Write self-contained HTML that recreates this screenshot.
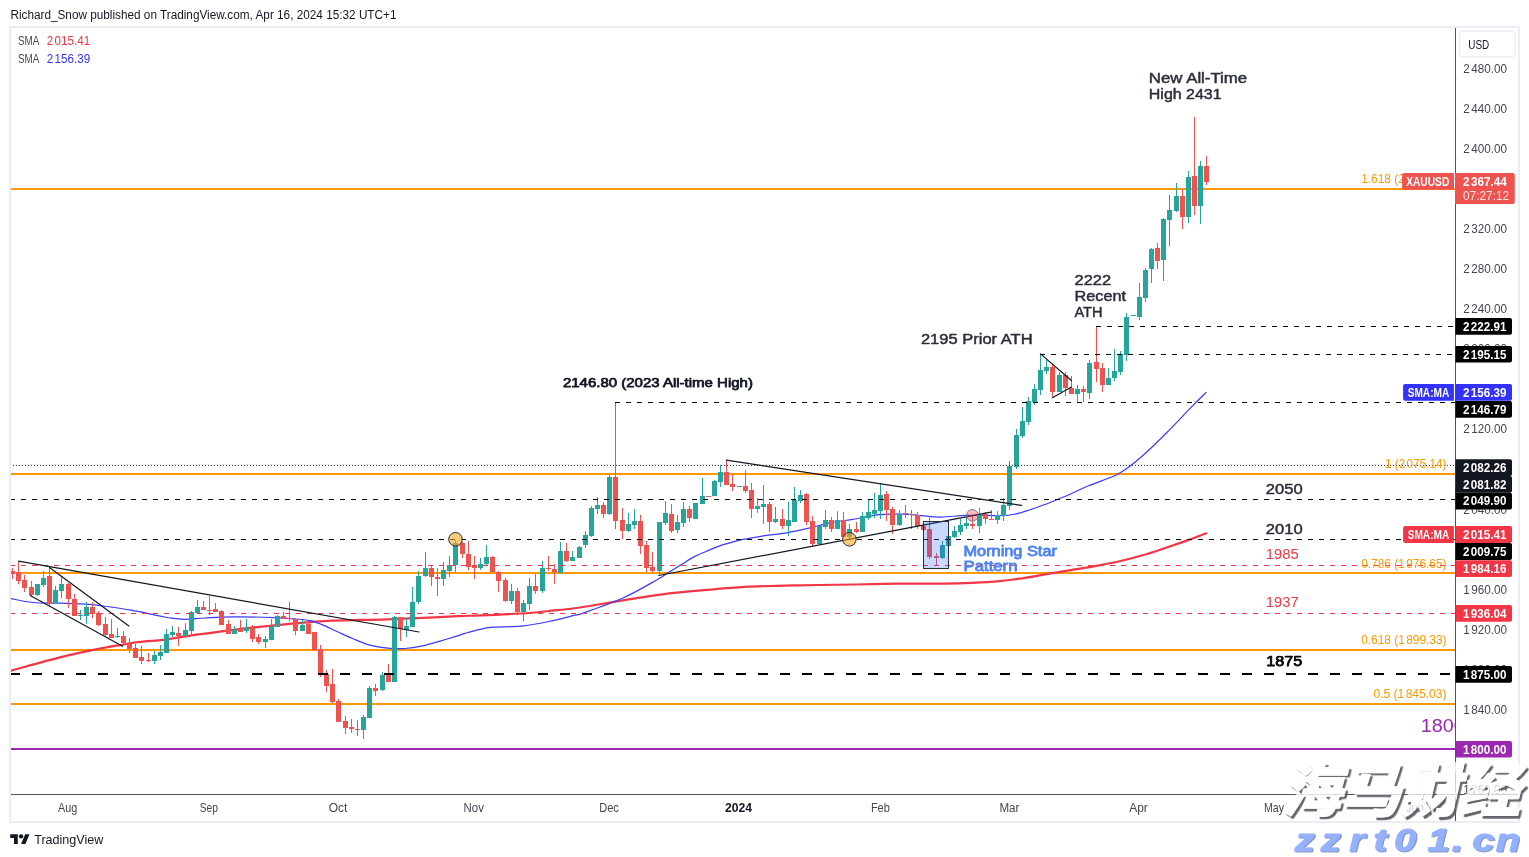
<!DOCTYPE html>
<html lang="en"><head><meta charset="utf-8"><title>XAUUSD chart</title>
<style>
html,body{margin:0;padding:0;background:#fff;}
body{width:1529px;height:857px;overflow:hidden;}
svg{display:block;will-change:transform;font-family:"Liberation Sans", sans-serif;}
</style></head><body>
<svg width="1529" height="857" viewBox="0 0 1529 857">
<rect width="1529" height="857" fill="#fff"/>
<defs><clipPath id="pane"><rect x="11" y="28" width="1444" height="766"/></clipPath><filter id="blur" x="-5%" y="-20%" width="110%" height="140%"><feGaussianBlur stdDeviation="0.7"/></filter></defs>
<g clip-path="url(#pane)">
<rect x="11" y="188" width="1444" height="2" fill="#ff9800" shape-rendering="crispEdges"/>
<rect x="11" y="473" width="1444" height="2" fill="#ff9800" shape-rendering="crispEdges"/>
<rect x="11" y="572" width="1444" height="2" fill="#ff9800" shape-rendering="crispEdges"/>
<rect x="11" y="649" width="1444" height="2" fill="#ff9800" shape-rendering="crispEdges"/>
<rect x="11" y="703" width="1444" height="2" fill="#ff9800" shape-rendering="crispEdges"/>
<rect x="11" y="748" width="1444" height="2" fill="#9c27b0" shape-rendering="crispEdges"/>
<path d="M9.9,671.0C10.5,670.8 4.9,672.3 13.4,670.0C21.9,667.7 46.1,660.8 61.0,657.1C75.9,653.4 92.5,650.1 103.0,648.0C113.5,645.9 118.2,645.5 124.0,644.5C129.8,643.5 132.2,642.8 138.0,642.1C143.8,641.4 153.7,640.8 159.0,640.3C164.3,639.8 163.5,639.9 170.0,638.9C176.5,637.9 188.7,635.7 198.0,634.4C207.3,633.1 216.7,632.1 226.0,630.9C235.3,629.7 244.7,628.4 254.0,627.4C263.3,626.4 272.7,625.5 282.0,624.6C291.3,623.7 301.8,622.8 310.0,622.1C318.2,621.5 323.9,621.0 331.0,620.7C338.1,620.4 343.1,620.3 352.5,620.1C361.9,619.9 375.8,619.7 387.5,619.3C399.2,618.9 410.8,618.4 422.5,617.9C434.2,617.4 447.9,616.5 457.5,616.1C467.1,615.7 469.4,615.8 480.0,615.4C490.6,615.0 509.5,614.2 521.0,613.5C532.5,612.8 539.2,612.0 549.0,611.0C558.8,610.0 568.0,609.2 580.0,607.5C592.0,605.8 607.5,602.9 621.2,600.7C634.9,598.5 648.7,596.0 662.4,594.3C676.1,592.5 689.9,591.4 703.6,590.2C717.3,589.0 728.8,587.7 744.8,586.9C760.8,586.1 781.5,585.7 799.8,585.3C818.1,584.9 838.7,584.8 854.7,584.5C870.7,584.2 882.2,583.8 895.9,583.6C909.6,583.5 925.6,583.7 937.1,583.6C948.6,583.5 955.1,583.4 964.6,583.1C974.1,582.8 984.9,582.3 994.0,581.6C1003.1,580.9 1011.0,579.9 1019.5,578.7C1028.0,577.5 1036.5,575.8 1045.0,574.4C1053.5,573.0 1062.0,571.6 1070.5,570.2C1079.0,568.8 1087.5,567.5 1096.0,565.9C1104.5,564.3 1113.0,562.8 1121.5,560.8C1130.0,558.8 1138.5,556.5 1147.0,554.0C1155.5,551.5 1165.5,547.9 1172.6,545.5C1179.7,543.1 1184.0,541.6 1189.6,539.6C1195.2,537.6 1203.5,534.3 1206.3,533.3" fill="none" stroke="#f23645" stroke-width="2.2" stroke-linecap="round"/>
<path d="M9.9,598.3C13.8,599.0 24.5,601.7 33.0,602.5C41.5,603.3 51.7,602.9 61.0,603.2C70.3,603.5 82.0,603.8 89.0,604.3C96.0,604.8 96.0,605.0 103.0,606.0C110.0,607.0 121.7,608.6 131.0,610.2C140.3,611.8 152.5,614.5 159.0,615.8C165.5,617.1 165.8,617.4 170.0,618.0C174.2,618.6 178.2,619.3 184.0,619.3C189.8,619.3 196.8,618.4 205.0,618.0C213.2,617.6 221.3,617.0 233.0,616.9C244.7,616.8 264.5,617.2 275.0,617.6C285.5,618.0 290.2,618.5 296.0,619.0C301.8,619.5 305.7,619.7 310.0,620.6C314.3,621.5 317.5,622.8 322.0,624.6C326.5,626.4 331.9,629.2 337.0,631.5C342.1,633.8 347.0,636.2 352.5,638.5C358.0,640.8 364.2,643.6 370.0,645.2C375.8,646.8 381.7,647.6 387.5,648.1C393.3,648.6 399.2,648.9 405.0,648.5C410.8,648.1 416.7,647.1 422.5,645.9C428.3,644.7 434.2,642.8 440.0,641.1C445.8,639.4 453.3,637.2 457.5,635.9C461.7,634.6 461.2,634.5 465.0,633.4C468.8,632.3 475.3,630.4 480.0,629.4C484.7,628.4 486.2,627.6 493.0,627.1C499.8,626.6 511.7,627.0 521.0,626.1C530.3,625.2 540.0,623.3 549.0,621.5C558.0,619.7 569.3,616.6 575.0,615.2C580.7,613.8 575.1,615.9 583.0,613.1C590.9,610.3 610.1,603.8 622.4,598.3C634.7,592.8 648.8,584.4 656.6,580.0C664.4,575.6 665.0,574.6 669.2,572.0C673.4,569.4 677.6,566.9 681.8,564.3C686.0,561.7 690.2,558.8 694.4,556.6C698.6,554.4 702.6,552.9 707.0,551.0C711.4,549.1 715.5,547.2 721.0,545.4C726.5,543.6 735.8,541.2 740.0,540.1C744.2,539.0 741.5,539.7 746.0,538.9C750.5,538.1 760.0,536.4 767.0,535.4C774.0,534.4 781.0,533.8 788.0,532.6C795.0,531.4 802.0,529.7 809.0,528.1C816.0,526.5 823.0,524.2 830.0,522.8C837.0,521.4 845.2,520.5 851.0,519.6C856.8,518.7 860.3,518.0 865.0,517.2C869.7,516.4 874.3,515.2 879.0,514.7C883.7,514.2 888.7,514.2 893.0,514.1C897.3,514.0 900.8,513.9 905.0,514.1C909.2,514.3 911.9,514.8 918.0,515.3C924.1,515.8 933.6,517.1 941.8,517.1C950.0,517.1 957.0,515.5 967.0,515.3C977.0,515.0 993.8,515.8 1002.0,515.6C1010.2,515.4 1011.3,514.9 1016.0,513.9C1020.7,512.9 1025.3,511.2 1030.0,509.7C1034.7,508.2 1039.3,506.6 1044.0,504.8C1048.7,503.1 1053.7,500.9 1058.0,499.2C1062.3,497.4 1065.0,496.5 1070.0,494.3C1075.0,492.1 1080.3,489.2 1087.9,486.0C1095.5,482.8 1108.6,478.6 1115.7,475.2C1122.8,471.8 1125.8,469.1 1130.4,465.7C1135.0,462.3 1137.5,460.4 1143.5,455.0C1149.5,449.6 1158.2,441.2 1166.4,433.0C1174.6,424.8 1185.9,412.6 1192.5,405.9C1199.1,399.1 1203.8,394.7 1206.0,392.5" fill="none" stroke="#3a3aff" stroke-width="1.2" stroke-linecap="round"/>
<g shape-rendering="crispEdges">
<rect x="12" y="568" width="1" height="11" fill="#ef5350"/>
<rect x="10" y="571" width="5" height="3" fill="#ef5350"/>
<rect x="18" y="562" width="1" height="22" fill="#ef5350"/>
<rect x="16" y="572" width="5" height="9" fill="#ef5350"/>
<rect x="24" y="575" width="1" height="17" fill="#ef5350"/>
<rect x="22" y="580" width="5" height="8" fill="#ef5350"/>
<rect x="31" y="581" width="1" height="15" fill="#ef5350"/>
<rect x="29" y="587" width="5" height="8" fill="#ef5350"/>
<rect x="37" y="584" width="1" height="12" fill="#26a69a"/>
<rect x="35" y="584" width="5" height="11" fill="#26a69a"/>
<rect x="43" y="571" width="1" height="16" fill="#26a69a"/>
<rect x="41" y="578" width="5" height="7" fill="#26a69a"/>
<rect x="49" y="568" width="1" height="38" fill="#ef5350"/>
<rect x="47" y="576" width="5" height="28" fill="#ef5350"/>
<rect x="55" y="586" width="1" height="18" fill="#26a69a"/>
<rect x="53" y="590" width="5" height="14" fill="#26a69a"/>
<rect x="61" y="577" width="1" height="21" fill="#26a69a"/>
<rect x="59" y="584" width="5" height="7" fill="#26a69a"/>
<rect x="68" y="583" width="1" height="25" fill="#ef5350"/>
<rect x="66" y="584" width="5" height="15" fill="#ef5350"/>
<rect x="74" y="594" width="1" height="22" fill="#ef5350"/>
<rect x="72" y="599" width="5" height="17" fill="#ef5350"/>
<rect x="80" y="610" width="1" height="10" fill="#26a69a"/>
<rect x="78" y="615" width="5" height="1" fill="#26a69a"/>
<rect x="86" y="602" width="1" height="22" fill="#26a69a"/>
<rect x="84" y="607" width="5" height="9" fill="#26a69a"/>
<rect x="92" y="602" width="1" height="16" fill="#ef5350"/>
<rect x="90" y="607" width="5" height="7" fill="#ef5350"/>
<rect x="98" y="611" width="1" height="15" fill="#ef5350"/>
<rect x="96" y="613" width="5" height="12" fill="#ef5350"/>
<rect x="105" y="617" width="1" height="19" fill="#ef5350"/>
<rect x="103" y="624" width="5" height="11" fill="#ef5350"/>
<rect x="111" y="619" width="1" height="19" fill="#ef5350"/>
<rect x="109" y="634" width="5" height="4" fill="#ef5350"/>
<rect x="117" y="628" width="1" height="10" fill="#26a69a"/>
<rect x="115" y="636" width="5" height="1" fill="#26a69a"/>
<rect x="123" y="631" width="1" height="13" fill="#ef5350"/>
<rect x="121" y="636" width="5" height="7" fill="#ef5350"/>
<rect x="129" y="638" width="1" height="15" fill="#ef5350"/>
<rect x="127" y="644" width="5" height="5" fill="#ef5350"/>
<rect x="135" y="644" width="1" height="14" fill="#ef5350"/>
<rect x="133" y="648" width="5" height="10" fill="#ef5350"/>
<rect x="141" y="646" width="1" height="18" fill="#ef5350"/>
<rect x="139" y="657" width="5" height="4" fill="#ef5350"/>
<rect x="148" y="653" width="1" height="9" fill="#ef5350"/>
<rect x="146" y="660" width="5" height="1" fill="#ef5350"/>
<rect x="154" y="651" width="1" height="13" fill="#26a69a"/>
<rect x="152" y="655" width="5" height="6" fill="#26a69a"/>
<rect x="160" y="645" width="1" height="15" fill="#26a69a"/>
<rect x="158" y="652" width="5" height="4" fill="#26a69a"/>
<rect x="166" y="629" width="1" height="24" fill="#26a69a"/>
<rect x="164" y="634" width="5" height="19" fill="#26a69a"/>
<rect x="172" y="626" width="1" height="11" fill="#26a69a"/>
<rect x="170" y="632" width="5" height="3" fill="#26a69a"/>
<rect x="178" y="627" width="1" height="19" fill="#ef5350"/>
<rect x="176" y="633" width="5" height="3" fill="#ef5350"/>
<rect x="185" y="623" width="1" height="13" fill="#26a69a"/>
<rect x="183" y="630" width="5" height="6" fill="#26a69a"/>
<rect x="191" y="611" width="1" height="24" fill="#26a69a"/>
<rect x="189" y="612" width="5" height="19" fill="#26a69a"/>
<rect x="197" y="600" width="1" height="13" fill="#26a69a"/>
<rect x="195" y="607" width="5" height="6" fill="#26a69a"/>
<rect x="203" y="601" width="1" height="9" fill="#ef5350"/>
<rect x="201" y="607" width="5" height="3" fill="#ef5350"/>
<rect x="209" y="596" width="1" height="19" fill="#ef5350"/>
<rect x="207" y="610" width="5" height="1" fill="#ef5350"/>
<rect x="215" y="603" width="1" height="9" fill="#ef5350"/>
<rect x="213" y="609" width="5" height="3" fill="#ef5350"/>
<rect x="221" y="610" width="1" height="15" fill="#ef5350"/>
<rect x="219" y="611" width="5" height="14" fill="#ef5350"/>
<rect x="228" y="620" width="1" height="14" fill="#ef5350"/>
<rect x="226" y="624" width="5" height="10" fill="#ef5350"/>
<rect x="234" y="626" width="1" height="8" fill="#26a69a"/>
<rect x="232" y="630" width="5" height="4" fill="#26a69a"/>
<rect x="240" y="620" width="1" height="12" fill="#ef5350"/>
<rect x="238" y="629" width="5" height="3" fill="#ef5350"/>
<rect x="246" y="619" width="1" height="14" fill="#26a69a"/>
<rect x="244" y="628" width="5" height="3" fill="#26a69a"/>
<rect x="252" y="625" width="1" height="17" fill="#ef5350"/>
<rect x="250" y="628" width="5" height="11" fill="#ef5350"/>
<rect x="258" y="634" width="1" height="10" fill="#ef5350"/>
<rect x="256" y="637" width="5" height="5" fill="#ef5350"/>
<rect x="265" y="636" width="1" height="12" fill="#26a69a"/>
<rect x="263" y="639" width="5" height="3" fill="#26a69a"/>
<rect x="271" y="619" width="1" height="21" fill="#26a69a"/>
<rect x="269" y="626" width="5" height="14" fill="#26a69a"/>
<rect x="277" y="615" width="1" height="12" fill="#26a69a"/>
<rect x="275" y="616" width="5" height="11" fill="#26a69a"/>
<rect x="283" y="612" width="1" height="7" fill="#ef5350"/>
<rect x="281" y="616" width="5" height="3" fill="#ef5350"/>
<rect x="289" y="602" width="1" height="19" fill="#ef5350"/>
<rect x="287" y="618" width="5" height="1" fill="#ef5350"/>
<rect x="295" y="618" width="1" height="17" fill="#ef5350"/>
<rect x="293" y="619" width="5" height="12" fill="#ef5350"/>
<rect x="302" y="620" width="1" height="11" fill="#26a69a"/>
<rect x="300" y="625" width="5" height="6" fill="#26a69a"/>
<rect x="308" y="622" width="1" height="12" fill="#ef5350"/>
<rect x="306" y="624" width="5" height="10" fill="#ef5350"/>
<rect x="314" y="632" width="1" height="18" fill="#ef5350"/>
<rect x="312" y="632" width="5" height="18" fill="#ef5350"/>
<rect x="320" y="645" width="1" height="32" fill="#ef5350"/>
<rect x="318" y="649" width="5" height="25" fill="#ef5350"/>
<rect x="326" y="670" width="1" height="22" fill="#ef5350"/>
<rect x="324" y="674" width="5" height="12" fill="#ef5350"/>
<rect x="332" y="669" width="1" height="34" fill="#ef5350"/>
<rect x="330" y="684" width="5" height="18" fill="#ef5350"/>
<rect x="338" y="699" width="1" height="23" fill="#ef5350"/>
<rect x="336" y="701" width="5" height="21" fill="#ef5350"/>
<rect x="345" y="716" width="1" height="18" fill="#ef5350"/>
<rect x="343" y="721" width="5" height="7" fill="#ef5350"/>
<rect x="351" y="719" width="1" height="14" fill="#ef5350"/>
<rect x="349" y="727" width="5" height="2" fill="#ef5350"/>
<rect x="357" y="720" width="1" height="16" fill="#ef5350"/>
<rect x="355" y="729" width="5" height="1" fill="#ef5350"/>
<rect x="363" y="715" width="1" height="24" fill="#26a69a"/>
<rect x="361" y="717" width="5" height="13" fill="#26a69a"/>
<rect x="369" y="686" width="1" height="32" fill="#26a69a"/>
<rect x="367" y="688" width="5" height="30" fill="#26a69a"/>
<rect x="375" y="684" width="1" height="12" fill="#ef5350"/>
<rect x="373" y="688" width="5" height="3" fill="#ef5350"/>
<rect x="382" y="672" width="1" height="19" fill="#26a69a"/>
<rect x="380" y="675" width="5" height="15" fill="#26a69a"/>
<rect x="388" y="664" width="1" height="18" fill="#ef5350"/>
<rect x="386" y="675" width="5" height="7" fill="#ef5350"/>
<rect x="394" y="616" width="1" height="66" fill="#26a69a"/>
<rect x="392" y="617" width="5" height="65" fill="#26a69a"/>
<rect x="400" y="617" width="1" height="24" fill="#ef5350"/>
<rect x="398" y="617" width="5" height="12" fill="#ef5350"/>
<rect x="406" y="618" width="1" height="19" fill="#26a69a"/>
<rect x="404" y="626" width="5" height="4" fill="#26a69a"/>
<rect x="412" y="587" width="1" height="40" fill="#26a69a"/>
<rect x="410" y="602" width="5" height="25" fill="#26a69a"/>
<rect x="418" y="571" width="1" height="33" fill="#26a69a"/>
<rect x="416" y="576" width="5" height="26" fill="#26a69a"/>
<rect x="425" y="552" width="1" height="25" fill="#26a69a"/>
<rect x="423" y="568" width="5" height="8" fill="#26a69a"/>
<rect x="431" y="565" width="1" height="21" fill="#ef5350"/>
<rect x="429" y="568" width="5" height="9" fill="#ef5350"/>
<rect x="437" y="568" width="1" height="28" fill="#ef5350"/>
<rect x="435" y="577" width="5" height="2" fill="#ef5350"/>
<rect x="443" y="562" width="1" height="24" fill="#26a69a"/>
<rect x="441" y="570" width="5" height="9" fill="#26a69a"/>
<rect x="449" y="556" width="1" height="21" fill="#26a69a"/>
<rect x="447" y="565" width="5" height="6" fill="#26a69a"/>
<rect x="455" y="540" width="1" height="32" fill="#26a69a"/>
<rect x="453" y="543" width="5" height="22" fill="#26a69a"/>
<rect x="462" y="542" width="1" height="16" fill="#ef5350"/>
<rect x="460" y="543" width="5" height="11" fill="#ef5350"/>
<rect x="468" y="541" width="1" height="29" fill="#ef5350"/>
<rect x="466" y="554" width="5" height="13" fill="#ef5350"/>
<rect x="474" y="556" width="1" height="23" fill="#ef5350"/>
<rect x="472" y="565" width="5" height="3" fill="#ef5350"/>
<rect x="480" y="558" width="1" height="12" fill="#26a69a"/>
<rect x="478" y="564" width="5" height="4" fill="#26a69a"/>
<rect x="486" y="545" width="1" height="20" fill="#26a69a"/>
<rect x="484" y="557" width="5" height="7" fill="#26a69a"/>
<rect x="492" y="556" width="1" height="16" fill="#ef5350"/>
<rect x="490" y="557" width="5" height="15" fill="#ef5350"/>
<rect x="498" y="571" width="1" height="21" fill="#ef5350"/>
<rect x="496" y="572" width="5" height="9" fill="#ef5350"/>
<rect x="505" y="578" width="1" height="24" fill="#ef5350"/>
<rect x="503" y="580" width="5" height="21" fill="#ef5350"/>
<rect x="511" y="584" width="1" height="20" fill="#26a69a"/>
<rect x="509" y="591" width="5" height="10" fill="#26a69a"/>
<rect x="517" y="588" width="1" height="27" fill="#ef5350"/>
<rect x="515" y="591" width="5" height="21" fill="#ef5350"/>
<rect x="523" y="600" width="1" height="21" fill="#26a69a"/>
<rect x="521" y="603" width="5" height="9" fill="#26a69a"/>
<rect x="529" y="578" width="1" height="32" fill="#26a69a"/>
<rect x="527" y="586" width="5" height="18" fill="#26a69a"/>
<rect x="535" y="574" width="1" height="20" fill="#ef5350"/>
<rect x="533" y="586" width="5" height="5" fill="#ef5350"/>
<rect x="542" y="561" width="1" height="32" fill="#26a69a"/>
<rect x="540" y="568" width="5" height="23" fill="#26a69a"/>
<rect x="548" y="556" width="1" height="15" fill="#ef5350"/>
<rect x="546" y="568" width="5" height="1" fill="#ef5350"/>
<rect x="554" y="564" width="1" height="20" fill="#ef5350"/>
<rect x="552" y="569" width="5" height="3" fill="#ef5350"/>
<rect x="560" y="542" width="1" height="31" fill="#26a69a"/>
<rect x="558" y="551" width="5" height="22" fill="#26a69a"/>
<rect x="566" y="543" width="1" height="19" fill="#ef5350"/>
<rect x="564" y="551" width="5" height="10" fill="#ef5350"/>
<rect x="572" y="551" width="1" height="10" fill="#26a69a"/>
<rect x="570" y="557" width="5" height="4" fill="#26a69a"/>
<rect x="579" y="546" width="1" height="12" fill="#26a69a"/>
<rect x="577" y="547" width="5" height="11" fill="#26a69a"/>
<rect x="585" y="531" width="1" height="17" fill="#26a69a"/>
<rect x="583" y="535" width="5" height="10" fill="#26a69a"/>
<rect x="591" y="506" width="1" height="31" fill="#26a69a"/>
<rect x="589" y="508" width="5" height="28" fill="#26a69a"/>
<rect x="597" y="497" width="1" height="17" fill="#26a69a"/>
<rect x="595" y="505" width="5" height="4" fill="#26a69a"/>
<rect x="603" y="502" width="1" height="16" fill="#ef5350"/>
<rect x="601" y="505" width="5" height="9" fill="#ef5350"/>
<rect x="609" y="474" width="1" height="41" fill="#26a69a"/>
<rect x="607" y="477" width="5" height="37" fill="#26a69a"/>
<rect x="615" y="402" width="1" height="127" fill="#ef5350"/>
<rect x="613" y="477" width="5" height="44" fill="#ef5350"/>
<rect x="622" y="508" width="1" height="31" fill="#ef5350"/>
<rect x="620" y="520" width="5" height="11" fill="#ef5350"/>
<rect x="628" y="513" width="1" height="19" fill="#26a69a"/>
<rect x="626" y="524" width="5" height="7" fill="#26a69a"/>
<rect x="634" y="509" width="1" height="20" fill="#26a69a"/>
<rect x="632" y="521" width="5" height="4" fill="#26a69a"/>
<rect x="640" y="515" width="1" height="39" fill="#ef5350"/>
<rect x="638" y="521" width="5" height="25" fill="#ef5350"/>
<rect x="646" y="541" width="1" height="31" fill="#ef5350"/>
<rect x="644" y="545" width="5" height="23" fill="#ef5350"/>
<rect x="652" y="552" width="1" height="20" fill="#ef5350"/>
<rect x="650" y="567" width="5" height="4" fill="#ef5350"/>
<rect x="659" y="522" width="1" height="53" fill="#26a69a"/>
<rect x="657" y="522" width="5" height="49" fill="#26a69a"/>
<rect x="665" y="501" width="1" height="24" fill="#26a69a"/>
<rect x="663" y="513" width="5" height="10" fill="#26a69a"/>
<rect x="671" y="504" width="1" height="29" fill="#ef5350"/>
<rect x="669" y="514" width="5" height="17" fill="#ef5350"/>
<rect x="677" y="515" width="1" height="18" fill="#26a69a"/>
<rect x="675" y="522" width="5" height="8" fill="#26a69a"/>
<rect x="683" y="502" width="1" height="25" fill="#26a69a"/>
<rect x="681" y="509" width="5" height="14" fill="#26a69a"/>
<rect x="689" y="506" width="1" height="16" fill="#ef5350"/>
<rect x="687" y="509" width="5" height="9" fill="#ef5350"/>
<rect x="695" y="503" width="1" height="16" fill="#26a69a"/>
<rect x="693" y="503" width="5" height="16" fill="#26a69a"/>
<rect x="702" y="478" width="1" height="26" fill="#26a69a"/>
<rect x="700" y="496" width="5" height="8" fill="#26a69a"/>
<rect x="708" y="496" width="1" height="1" fill="#ef5350"/>
<rect x="706" y="496" width="5" height="1" fill="#ef5350"/>
<rect x="714" y="480" width="1" height="16" fill="#26a69a"/>
<rect x="712" y="481" width="5" height="15" fill="#26a69a"/>
<rect x="720" y="465" width="1" height="22" fill="#26a69a"/>
<rect x="718" y="472" width="5" height="10" fill="#26a69a"/>
<rect x="726" y="460" width="1" height="25" fill="#ef5350"/>
<rect x="724" y="472" width="5" height="13" fill="#ef5350"/>
<rect x="732" y="474" width="1" height="17" fill="#ef5350"/>
<rect x="730" y="484" width="5" height="3" fill="#ef5350"/>
<rect x="739" y="486" width="1" height="1" fill="#26a69a"/>
<rect x="737" y="486" width="5" height="1" fill="#26a69a"/>
<rect x="745" y="470" width="1" height="23" fill="#ef5350"/>
<rect x="743" y="486" width="5" height="5" fill="#ef5350"/>
<rect x="751" y="483" width="1" height="35" fill="#ef5350"/>
<rect x="749" y="490" width="5" height="19" fill="#ef5350"/>
<rect x="757" y="498" width="1" height="15" fill="#26a69a"/>
<rect x="755" y="506" width="5" height="3" fill="#26a69a"/>
<rect x="763" y="485" width="1" height="39" fill="#26a69a"/>
<rect x="761" y="504" width="5" height="3" fill="#26a69a"/>
<rect x="769" y="502" width="1" height="30" fill="#ef5350"/>
<rect x="767" y="504" width="5" height="18" fill="#ef5350"/>
<rect x="775" y="507" width="1" height="16" fill="#26a69a"/>
<rect x="773" y="519" width="5" height="3" fill="#26a69a"/>
<rect x="782" y="509" width="1" height="20" fill="#ef5350"/>
<rect x="780" y="519" width="5" height="7" fill="#ef5350"/>
<rect x="788" y="502" width="1" height="34" fill="#26a69a"/>
<rect x="786" y="520" width="5" height="6" fill="#26a69a"/>
<rect x="794" y="487" width="1" height="35" fill="#26a69a"/>
<rect x="792" y="500" width="5" height="22" fill="#26a69a"/>
<rect x="800" y="490" width="1" height="13" fill="#26a69a"/>
<rect x="798" y="495" width="5" height="6" fill="#26a69a"/>
<rect x="806" y="493" width="1" height="32" fill="#ef5350"/>
<rect x="804" y="494" width="5" height="28" fill="#ef5350"/>
<rect x="812" y="516" width="1" height="30" fill="#ef5350"/>
<rect x="810" y="521" width="5" height="23" fill="#ef5350"/>
<rect x="819" y="526" width="1" height="18" fill="#26a69a"/>
<rect x="817" y="526" width="5" height="18" fill="#26a69a"/>
<rect x="825" y="510" width="1" height="19" fill="#26a69a"/>
<rect x="823" y="520" width="5" height="7" fill="#26a69a"/>
<rect x="831" y="517" width="1" height="15" fill="#ef5350"/>
<rect x="829" y="520" width="5" height="9" fill="#ef5350"/>
<rect x="837" y="511" width="1" height="18" fill="#26a69a"/>
<rect x="835" y="520" width="5" height="9" fill="#26a69a"/>
<rect x="843" y="512" width="1" height="25" fill="#ef5350"/>
<rect x="841" y="520" width="5" height="17" fill="#ef5350"/>
<rect x="849" y="524" width="1" height="15" fill="#26a69a"/>
<rect x="847" y="529" width="5" height="8" fill="#26a69a"/>
<rect x="856" y="522" width="1" height="11" fill="#ef5350"/>
<rect x="854" y="529" width="5" height="3" fill="#ef5350"/>
<rect x="862" y="512" width="1" height="20" fill="#26a69a"/>
<rect x="860" y="516" width="5" height="16" fill="#26a69a"/>
<rect x="868" y="500" width="1" height="20" fill="#26a69a"/>
<rect x="866" y="512" width="5" height="6" fill="#26a69a"/>
<rect x="874" y="493" width="1" height="25" fill="#26a69a"/>
<rect x="872" y="510" width="5" height="4" fill="#26a69a"/>
<rect x="880" y="483" width="1" height="36" fill="#26a69a"/>
<rect x="878" y="495" width="5" height="16" fill="#26a69a"/>
<rect x="886" y="491" width="1" height="30" fill="#ef5350"/>
<rect x="884" y="494" width="5" height="16" fill="#ef5350"/>
<rect x="892" y="507" width="1" height="27" fill="#ef5350"/>
<rect x="890" y="509" width="5" height="16" fill="#ef5350"/>
<rect x="899" y="510" width="1" height="16" fill="#26a69a"/>
<rect x="897" y="514" width="5" height="11" fill="#26a69a"/>
<rect x="905" y="505" width="1" height="13" fill="#ef5350"/>
<rect x="903" y="513" width="5" height="1" fill="#ef5350"/>
<rect x="911" y="510" width="1" height="19" fill="#ef5350"/>
<rect x="909" y="514" width="5" height="1" fill="#ef5350"/>
<rect x="917" y="512" width="1" height="17" fill="#ef5350"/>
<rect x="915" y="515" width="5" height="11" fill="#ef5350"/>
<rect x="923" y="525" width="1" height="5" fill="#ef5350"/>
<rect x="921" y="526" width="5" height="4" fill="#ef5350"/>
<rect x="929" y="516" width="1" height="43" fill="#ef5350"/>
<rect x="927" y="529" width="5" height="28" fill="#ef5350"/>
<rect x="936" y="553" width="1" height="12" fill="#ef5350"/>
<rect x="934" y="556" width="5" height="2" fill="#ef5350"/>
<rect x="942" y="541" width="1" height="18" fill="#26a69a"/>
<rect x="940" y="545" width="5" height="13" fill="#26a69a"/>
<rect x="948" y="536" width="1" height="10" fill="#26a69a"/>
<rect x="946" y="536" width="5" height="10" fill="#26a69a"/>
<rect x="954" y="526" width="1" height="12" fill="#26a69a"/>
<rect x="952" y="531" width="5" height="6" fill="#26a69a"/>
<rect x="960" y="519" width="1" height="16" fill="#26a69a"/>
<rect x="958" y="525" width="5" height="7" fill="#26a69a"/>
<rect x="966" y="516" width="1" height="13" fill="#26a69a"/>
<rect x="964" y="523" width="5" height="3" fill="#26a69a"/>
<rect x="972" y="515" width="1" height="14" fill="#ef5350"/>
<rect x="970" y="524" width="5" height="2" fill="#ef5350"/>
<rect x="979" y="508" width="1" height="25" fill="#26a69a"/>
<rect x="977" y="515" width="5" height="11" fill="#26a69a"/>
<rect x="985" y="512" width="1" height="12" fill="#ef5350"/>
<rect x="983" y="514" width="5" height="5" fill="#ef5350"/>
<rect x="991" y="510" width="1" height="10" fill="#ef5350"/>
<rect x="989" y="519" width="5" height="1" fill="#ef5350"/>
<rect x="997" y="511" width="1" height="13" fill="#26a69a"/>
<rect x="995" y="515" width="5" height="5" fill="#26a69a"/>
<rect x="1003" y="498" width="1" height="23" fill="#26a69a"/>
<rect x="1001" y="505" width="5" height="11" fill="#26a69a"/>
<rect x="1009" y="461" width="1" height="49" fill="#26a69a"/>
<rect x="1007" y="466" width="5" height="40" fill="#26a69a"/>
<rect x="1016" y="429" width="1" height="40" fill="#26a69a"/>
<rect x="1014" y="435" width="5" height="32" fill="#26a69a"/>
<rect x="1022" y="407" width="1" height="31" fill="#26a69a"/>
<rect x="1020" y="421" width="5" height="15" fill="#26a69a"/>
<rect x="1028" y="397" width="1" height="28" fill="#26a69a"/>
<rect x="1026" y="401" width="5" height="21" fill="#26a69a"/>
<rect x="1034" y="384" width="1" height="21" fill="#26a69a"/>
<rect x="1032" y="389" width="5" height="13" fill="#26a69a"/>
<rect x="1040" y="354" width="1" height="41" fill="#26a69a"/>
<rect x="1038" y="370" width="5" height="20" fill="#26a69a"/>
<rect x="1046" y="360" width="1" height="14" fill="#26a69a"/>
<rect x="1044" y="367" width="5" height="4" fill="#26a69a"/>
<rect x="1052" y="365" width="1" height="33" fill="#ef5350"/>
<rect x="1050" y="367" width="5" height="25" fill="#ef5350"/>
<rect x="1059" y="372" width="1" height="20" fill="#26a69a"/>
<rect x="1057" y="375" width="5" height="17" fill="#26a69a"/>
<rect x="1065" y="372" width="1" height="24" fill="#ef5350"/>
<rect x="1063" y="375" width="5" height="13" fill="#ef5350"/>
<rect x="1071" y="376" width="1" height="18" fill="#ef5350"/>
<rect x="1069" y="388" width="5" height="6" fill="#ef5350"/>
<rect x="1077" y="385" width="1" height="17" fill="#26a69a"/>
<rect x="1075" y="389" width="5" height="5" fill="#26a69a"/>
<rect x="1083" y="386" width="1" height="16" fill="#ef5350"/>
<rect x="1081" y="389" width="5" height="3" fill="#ef5350"/>
<rect x="1089" y="360" width="1" height="39" fill="#26a69a"/>
<rect x="1087" y="363" width="5" height="30" fill="#26a69a"/>
<rect x="1096" y="326" width="1" height="56" fill="#ef5350"/>
<rect x="1094" y="362" width="5" height="7" fill="#ef5350"/>
<rect x="1102" y="363" width="1" height="29" fill="#ef5350"/>
<rect x="1100" y="368" width="5" height="17" fill="#ef5350"/>
<rect x="1108" y="368" width="1" height="17" fill="#26a69a"/>
<rect x="1106" y="378" width="5" height="7" fill="#26a69a"/>
<rect x="1114" y="349" width="1" height="32" fill="#26a69a"/>
<rect x="1112" y="371" width="5" height="7" fill="#26a69a"/>
<rect x="1120" y="351" width="1" height="24" fill="#26a69a"/>
<rect x="1118" y="354" width="5" height="18" fill="#26a69a"/>
<rect x="1126" y="313" width="1" height="48" fill="#26a69a"/>
<rect x="1124" y="317" width="5" height="38" fill="#26a69a"/>
<rect x="1133" y="315" width="1" height="1" fill="#26a69a"/>
<rect x="1131" y="315" width="5" height="1" fill="#26a69a"/>
<rect x="1139" y="283" width="1" height="37" fill="#26a69a"/>
<rect x="1137" y="297" width="5" height="20" fill="#26a69a"/>
<rect x="1145" y="268" width="1" height="34" fill="#26a69a"/>
<rect x="1143" y="270" width="5" height="28" fill="#26a69a"/>
<rect x="1151" y="248" width="1" height="35" fill="#26a69a"/>
<rect x="1149" y="249" width="5" height="20" fill="#26a69a"/>
<rect x="1157" y="243" width="1" height="26" fill="#ef5350"/>
<rect x="1155" y="248" width="5" height="13" fill="#ef5350"/>
<rect x="1163" y="218" width="1" height="63" fill="#26a69a"/>
<rect x="1161" y="219" width="5" height="41" fill="#26a69a"/>
<rect x="1169" y="195" width="1" height="51" fill="#26a69a"/>
<rect x="1167" y="210" width="5" height="10" fill="#26a69a"/>
<rect x="1176" y="183" width="1" height="29" fill="#26a69a"/>
<rect x="1174" y="196" width="5" height="15" fill="#26a69a"/>
<rect x="1182" y="189" width="1" height="40" fill="#ef5350"/>
<rect x="1180" y="196" width="5" height="21" fill="#ef5350"/>
<rect x="1188" y="171" width="1" height="52" fill="#26a69a"/>
<rect x="1186" y="177" width="5" height="40" fill="#26a69a"/>
<rect x="1194" y="117" width="1" height="98" fill="#ef5350"/>
<rect x="1192" y="176" width="5" height="30" fill="#ef5350"/>
<rect x="1200" y="161" width="1" height="63" fill="#26a69a"/>
<rect x="1198" y="166" width="5" height="40" fill="#26a69a"/>
<rect x="1206" y="156" width="1" height="29" fill="#ef5350"/>
<rect x="1204" y="166" width="5" height="16" fill="#ef5350"/>
</g>
<line x1="9.4" y1="464.5" x2="1455" y2="464.5" stroke="#363a45" stroke-opacity="0.22" stroke-width="1" stroke-dasharray="1 2"/>
<line x1="10" y1="465.5" x2="1455" y2="465.5" stroke="#363a45" stroke-width="1" stroke-dasharray="1 2"/>
<line x1="1096" y1="326.5" x2="1455" y2="326.5" stroke="#000" stroke-width="1" stroke-dasharray="5 6"/>
<line x1="1040" y1="354.5" x2="1455" y2="354.5" stroke="#000" stroke-width="1" stroke-dasharray="5 6"/>
<line x1="615" y1="402.5" x2="1455" y2="402.5" stroke="#000" stroke-width="1" stroke-dasharray="5 6"/>
<line x1="10" y1="499.5" x2="1455" y2="499.5" stroke="#000" stroke-width="1" stroke-dasharray="5 6"/>
<line x1="10" y1="539.5" x2="1455" y2="539.5" stroke="#000" stroke-width="1" stroke-dasharray="5 6"/>
<line x1="10" y1="565.5" x2="1455" y2="565.5" stroke="#f23645" stroke-width="1" stroke-dasharray="5 6"/>
<line x1="10" y1="613.5" x2="1455" y2="613.5" stroke="#f23645" stroke-width="1" stroke-dasharray="5 6"/>
<line x1="10" y1="674" x2="1455" y2="674" stroke="#000" stroke-width="2" stroke-dasharray="10 12"/>
<line x1="18.6" y1="561.2" x2="419" y2="632" stroke="#131722" stroke-width="1.2" stroke-linecap="round"/>
<line x1="49.5" y1="567.5" x2="128.9" y2="626" stroke="#131722" stroke-width="1.2" stroke-linecap="round"/>
<line x1="30.2" y1="595.5" x2="122.6" y2="646.3" stroke="#131722" stroke-width="1.2" stroke-linecap="round"/>
<line x1="726.4" y1="460.2" x2="1021.6" y2="505.4" stroke="#131722" stroke-width="1.2" stroke-linecap="round"/>
<line x1="658.7" y1="575.5" x2="991" y2="512.1" stroke="#131722" stroke-width="1.2" stroke-linecap="round"/>
<line x1="1040.5" y1="353.9" x2="1071.4" y2="380.5" stroke="#131722" stroke-width="1.2" stroke-linecap="round"/>
<line x1="1052.5" y1="397.7" x2="1071.4" y2="387.1" stroke="#131722" stroke-width="1.2" stroke-linecap="round"/>
<rect x="923.5" y="521.5" width="25" height="47" fill="#2962ff" fill-opacity="0.25" stroke="#2a2e39" stroke-width="1"/>
<circle cx="455.5" cy="539.3" r="6.8" fill="#f5a623" fill-opacity="0.6" stroke="#2a2e39" stroke-width="1"/>
<circle cx="849.4" cy="539.3" r="6.8" fill="#f5a623" fill-opacity="0.6" stroke="#2a2e39" stroke-width="1"/>
<circle cx="972.4" cy="515.3" r="5.8" fill="#f23645" fill-opacity="0.35" stroke="#787b86" stroke-width="1"/>
<text x="1148.8" y="82.7" font-size="14" stroke="#2a2e39" stroke-width="0.45" stroke-linejoin="round" fill="#2a2e39" textLength="98.4" lengthAdjust="spacingAndGlyphs">New All-Time</text>
<text x="1148.8" y="98.6" font-size="14" stroke="#2a2e39" stroke-width="0.45" stroke-linejoin="round" fill="#2a2e39" textLength="72.8" lengthAdjust="spacingAndGlyphs">High 2431</text>
<text x="1074.5" y="284.6" font-size="14" stroke="#2a2e39" stroke-width="0.45" stroke-linejoin="round" fill="#2a2e39" textLength="36.6" lengthAdjust="spacingAndGlyphs">2222</text>
<text x="1074.5" y="300.8" font-size="14" stroke="#2a2e39" stroke-width="0.45" stroke-linejoin="round" fill="#2a2e39" textLength="51.5" lengthAdjust="spacingAndGlyphs">Recent</text>
<text x="1074.5" y="316.8" font-size="14" stroke="#2a2e39" stroke-width="0.45" stroke-linejoin="round" fill="#2a2e39" textLength="28.0" lengthAdjust="spacingAndGlyphs">ATH</text>
<text x="920.9" y="343.5" font-size="14" stroke="#2a2e39" stroke-width="0.45" stroke-linejoin="round" fill="#2a2e39" textLength="111.7" lengthAdjust="spacingAndGlyphs">2195 Prior ATH</text>
<text x="562.9" y="386.9" font-size="13" stroke="#131722" stroke-width="0.75" stroke-linejoin="round" fill="#131722" textLength="190.0" lengthAdjust="spacingAndGlyphs">2146.80 (2023 All-time High)</text>
<text x="963.5" y="555.9" font-size="14.5" stroke="#4f83f5" stroke-width="0.8" stroke-linejoin="round" fill="#4f83f5" textLength="93.4" lengthAdjust="spacingAndGlyphs">Morning Star</text>
<text x="963.5" y="571.3" font-size="14.5" stroke="#4f83f5" stroke-width="0.8" stroke-linejoin="round" fill="#4f83f5" textLength="54.0" lengthAdjust="spacingAndGlyphs">Pattern</text>
<text x="1265.8" y="493.7" font-size="14" stroke="#2a2e39" stroke-width="0.45" stroke-linejoin="round" fill="#2a2e39" textLength="36.9" lengthAdjust="spacingAndGlyphs">2050</text>
<text x="1265.8" y="533.6" font-size="14" stroke="#2a2e39" stroke-width="0.45" stroke-linejoin="round" fill="#2a2e39" textLength="36.9" lengthAdjust="spacingAndGlyphs">2010</text>
<text x="1265.8" y="558.7" font-size="14" fill="#f23645" textLength="32.8" lengthAdjust="spacingAndGlyphs">1985</text>
<text x="1265.8" y="607.3" font-size="14" fill="#f23645" textLength="32.8" lengthAdjust="spacingAndGlyphs">1937</text>
<text x="1266.3" y="665.9" font-size="14" stroke="#000" stroke-width="0.75" stroke-linejoin="round" fill="#000" textLength="35.9" lengthAdjust="spacingAndGlyphs">1875</text>
<text x="1420.8" y="732.2" font-size="18" fill="#9c27b0" textLength="44.0" lengthAdjust="spacingAndGlyphs">1800</text>
<text x="1446.5" y="182.8" font-size="12" fill="#ff9800" textLength="85.3" lengthAdjust="spacingAndGlyphs" text-anchor="end">1.618 (2<tspan dx="1.4">359.56)</tspan></text>
<text x="1446.5" y="468.3" font-size="12" fill="#ff9800" textLength="61.6" lengthAdjust="spacingAndGlyphs" text-anchor="end">1 (2<tspan dx="1.4">075.14)</tspan></text>
<text x="1446.5" y="568.0" font-size="12" fill="#ff9800" textLength="85.3" lengthAdjust="spacingAndGlyphs" text-anchor="end">0.786 (1<tspan dx="1.4">976.65)</tspan></text>
<text x="1446.5" y="643.6" font-size="12" fill="#ff9800" textLength="85.3" lengthAdjust="spacingAndGlyphs" text-anchor="end">0.618 (1<tspan dx="1.4">899.33)</tspan></text>
<text x="1446.5" y="697.8" font-size="12" fill="#ff9800" textLength="73.0" lengthAdjust="spacingAndGlyphs" text-anchor="end">0.5 (1<tspan dx="1.4">845.03)</tspan></text>
</g>
<text x="17.9" y="45.3" font-size="12" fill="#434651" textLength="21.4" lengthAdjust="spacingAndGlyphs">SMA</text>
<text x="46.7" y="45.3" font-size="12" fill="#f23645" textLength="43.4" lengthAdjust="spacingAndGlyphs">2<tspan dx="1.4">015.41</tspan></text>
<text x="17.9" y="62.6" font-size="12" fill="#434651" textLength="21.4" lengthAdjust="spacingAndGlyphs">SMA</text>
<text x="46.7" y="62.6" font-size="12" fill="#3333ff" textLength="43.4" lengthAdjust="spacingAndGlyphs">2<tspan dx="1.4">156.39</tspan></text>
<text x="10.4" y="18.7" font-size="12" fill="#131722" textLength="386.1" lengthAdjust="spacingAndGlyphs">Richard_Snow published on TradingView.com, Apr 16, 2024 15:32 UTC+1</text>
<rect x="10" y="27" width="1509" height="795" fill="none" stroke="#ebedf3" stroke-width="2"/>
<rect x="1455" y="28" width="1" height="793" fill="#4f525e" shape-rendering="crispEdges"/>
<rect x="11" y="794" width="1507" height="1" fill="#4f525e" shape-rendering="crispEdges"/>
<rect x="1459.5" y="31" width="55.5" height="26" rx="4" fill="#fff" stroke="#ebedf3" stroke-width="1.5"/>
<text x="1468.3" y="48.6" font-size="12" fill="#131722" textLength="21.0" lengthAdjust="spacingAndGlyphs">USD</text>
<text x="1463.3" y="793.8" font-size="12" fill="#434651" textLength="43.6" lengthAdjust="spacingAndGlyphs">1<tspan dx="1.4">760.00</tspan></text>
<text x="1463.3" y="753.7" font-size="12" fill="#434651" textLength="43.6" lengthAdjust="spacingAndGlyphs">1<tspan dx="1.4">800.00</tspan></text>
<text x="1463.3" y="713.7" font-size="12" fill="#434651" textLength="43.6" lengthAdjust="spacingAndGlyphs">1<tspan dx="1.4">840.00</tspan></text>
<text x="1463.3" y="673.7" font-size="12" fill="#434651" textLength="43.6" lengthAdjust="spacingAndGlyphs">1<tspan dx="1.4">880.00</tspan></text>
<text x="1463.3" y="633.6" font-size="12" fill="#434651" textLength="43.6" lengthAdjust="spacingAndGlyphs">1<tspan dx="1.4">920.00</tspan></text>
<text x="1463.3" y="593.6" font-size="12" fill="#434651" textLength="43.6" lengthAdjust="spacingAndGlyphs">1<tspan dx="1.4">960.00</tspan></text>
<text x="1463.3" y="553.5" font-size="12" fill="#434651" textLength="43.6" lengthAdjust="spacingAndGlyphs">2<tspan dx="1.4">000.00</tspan></text>
<text x="1463.3" y="513.5" font-size="12" fill="#434651" textLength="43.6" lengthAdjust="spacingAndGlyphs">2<tspan dx="1.4">040.00</tspan></text>
<text x="1463.3" y="473.4" font-size="12" fill="#434651" textLength="43.6" lengthAdjust="spacingAndGlyphs">2<tspan dx="1.4">080.00</tspan></text>
<text x="1463.3" y="433.4" font-size="12" fill="#434651" textLength="43.6" lengthAdjust="spacingAndGlyphs">2<tspan dx="1.4">120.00</tspan></text>
<text x="1463.3" y="393.4" font-size="12" fill="#434651" textLength="43.6" lengthAdjust="spacingAndGlyphs">2<tspan dx="1.4">160.00</tspan></text>
<text x="1463.3" y="353.3" font-size="12" fill="#434651" textLength="43.6" lengthAdjust="spacingAndGlyphs">2<tspan dx="1.4">200.00</tspan></text>
<text x="1463.3" y="313.3" font-size="12" fill="#434651" textLength="43.6" lengthAdjust="spacingAndGlyphs">2<tspan dx="1.4">240.00</tspan></text>
<text x="1463.3" y="273.2" font-size="12" fill="#434651" textLength="43.6" lengthAdjust="spacingAndGlyphs">2<tspan dx="1.4">280.00</tspan></text>
<text x="1463.3" y="233.2" font-size="12" fill="#434651" textLength="43.6" lengthAdjust="spacingAndGlyphs">2<tspan dx="1.4">320.00</tspan></text>
<text x="1463.3" y="193.1" font-size="12" fill="#434651" textLength="43.6" lengthAdjust="spacingAndGlyphs">2<tspan dx="1.4">360.00</tspan></text>
<text x="1463.3" y="153.1" font-size="12" fill="#434651" textLength="43.6" lengthAdjust="spacingAndGlyphs">2<tspan dx="1.4">400.00</tspan></text>
<text x="1463.3" y="113.0" font-size="12" fill="#434651" textLength="43.6" lengthAdjust="spacingAndGlyphs">2<tspan dx="1.4">440.00</tspan></text>
<text x="1463.3" y="73.0" font-size="12" fill="#434651" textLength="43.6" lengthAdjust="spacingAndGlyphs">2<tspan dx="1.4">480.00</tspan></text>
<path d="M1455.5,318.1H1510a2,2 0 0 1 2,2V332.8a2,2 0 0 1 -2,2H1455.5Z" fill="#000"/>
<text x="1463.0" y="330.7" font-size="12" font-weight="bold" fill="#fff" textLength="43.4" lengthAdjust="spacingAndGlyphs">2<tspan dx="1.4">222.91</tspan></text>
<path d="M1455.5,345.9H1510a2,2 0 0 1 2,2V360.6a2,2 0 0 1 -2,2H1455.5Z" fill="#000"/>
<text x="1463.0" y="358.5" font-size="12" font-weight="bold" fill="#fff" textLength="43.4" lengthAdjust="spacingAndGlyphs">2<tspan dx="1.4">195.15</tspan></text>
<path d="M1455.5,401.0H1510a2,2 0 0 1 2,2V415.7a2,2 0 0 1 -2,2H1455.5Z" fill="#000"/>
<text x="1463.0" y="413.6" font-size="12" font-weight="bold" fill="#fff" textLength="43.4" lengthAdjust="spacingAndGlyphs">2<tspan dx="1.4">146.79</tspan></text>
<path d="M1455.5,384.0H1510a2,2 0 0 1 2,2V398.7a2,2 0 0 1 -2,2H1455.5Z" fill="#3232fc"/>
<text x="1463.0" y="396.6" font-size="12" font-weight="bold" fill="#fff" textLength="43.4" lengthAdjust="spacingAndGlyphs">2<tspan dx="1.4">156.39</tspan></text>
<path d="M1453.9,384.0H1405.1a2,2 0 0 0 -2,2V398.7a2,2 0 0 0 2,2H1453.9Z" fill="#3232fc"/>
<text x="1407.7" y="396.6" font-size="12" font-weight="bold" fill="#fff" textLength="41.6" lengthAdjust="spacingAndGlyphs">SMA:MA</text>
<path d="M1455.5,459.3H1510a2,2 0 0 1 2,2V474.0a2,2 0 0 1 -2,2H1455.5Z" fill="#131722"/>
<text x="1463.0" y="471.9" font-size="12" font-weight="bold" fill="#fff" textLength="43.4" lengthAdjust="spacingAndGlyphs">2<tspan dx="1.4">082.26</tspan></text>
<path d="M1455.5,476.1H1510a2,2 0 0 1 2,2V490.8a2,2 0 0 1 -2,2H1455.5Z" fill="#131722"/>
<text x="1463.0" y="488.7" font-size="12" font-weight="bold" fill="#fff" textLength="43.4" lengthAdjust="spacingAndGlyphs">2<tspan dx="1.4">081.82</tspan></text>
<path d="M1455.5,492.8H1510a2,2 0 0 1 2,2V507.5a2,2 0 0 1 -2,2H1455.5Z" fill="#000"/>
<text x="1463.0" y="505.4" font-size="12" font-weight="bold" fill="#fff" textLength="43.4" lengthAdjust="spacingAndGlyphs">2<tspan dx="1.4">049.90</tspan></text>
<path d="M1455.5,526.1H1510a2,2 0 0 1 2,2V540.9a2,2 0 0 1 -2,2H1455.5Z" fill="#f23645"/>
<text x="1463.0" y="538.7" font-size="12" font-weight="bold" fill="#fff" textLength="43.4" lengthAdjust="spacingAndGlyphs">2<tspan dx="1.4">015.41</tspan></text>
<path d="M1453.9,526.1H1405.1a2,2 0 0 0 -2,2V540.9a2,2 0 0 0 2,2H1453.9Z" fill="#f23645"/>
<text x="1407.7" y="538.7" font-size="12" font-weight="bold" fill="#fff" textLength="41.6" lengthAdjust="spacingAndGlyphs">SMA:MA</text>
<path d="M1455.5,543.1H1510a2,2 0 0 1 2,2V557.9a2,2 0 0 1 -2,2H1455.5Z" fill="#000"/>
<text x="1463.0" y="555.7" font-size="12" font-weight="bold" fill="#fff" textLength="43.4" lengthAdjust="spacingAndGlyphs">2<tspan dx="1.4">009.75</tspan></text>
<path d="M1455.5,560.2H1510a2,2 0 0 1 2,2V575.0a2,2 0 0 1 -2,2H1455.5Z" fill="#f23645"/>
<text x="1463.0" y="572.8" font-size="12" font-weight="bold" fill="#fff" textLength="43.4" lengthAdjust="spacingAndGlyphs">1<tspan dx="1.4">984.16</tspan></text>
<path d="M1455.5,605.0H1510a2,2 0 0 1 2,2V619.8a2,2 0 0 1 -2,2H1455.5Z" fill="#f23645"/>
<text x="1463.0" y="617.6" font-size="12" font-weight="bold" fill="#fff" textLength="43.4" lengthAdjust="spacingAndGlyphs">1<tspan dx="1.4">936.04</tspan></text>
<path d="M1455.5,666.0H1510a2,2 0 0 1 2,2V680.8a2,2 0 0 1 -2,2H1455.5Z" fill="#000"/>
<text x="1463.0" y="678.6" font-size="12" font-weight="bold" fill="#fff" textLength="43.4" lengthAdjust="spacingAndGlyphs">1<tspan dx="1.4">875.00</tspan></text>
<path d="M1455.5,740.9H1510a2,2 0 0 1 2,2V755.6a2,2 0 0 1 -2,2H1455.5Z" fill="#9c27b0"/>
<text x="1463.0" y="753.5" font-size="12" font-weight="bold" fill="#fff" textLength="43.4" lengthAdjust="spacingAndGlyphs">1<tspan dx="1.4">800.00</tspan></text>
<path d="M1455,173.1H1512.8a2,2 0 0 1 2,2V201.9a2,2 0 0 1 -2,2H1455Z" fill="#ef5350"/>
<text x="1463.0" y="185.7" font-size="12" font-weight="bold" fill="#fff" textLength="43.9" lengthAdjust="spacingAndGlyphs">2<tspan dx="1.4">367.44</tspan></text>
<text x="1463.0" y="199.8" font-size="12" fill="#fff" textLength="46.2" lengthAdjust="spacingAndGlyphs" fill-opacity="0.85">07:27:12</text>
<path d="M1454,173.1H1404.1a2,2 0 0 0 -2,2V187.8a2,2 0 0 0 2,2H1454Z" fill="#ef5350"/>
<text x="1406.2" y="185.7" font-size="12" font-weight="bold" fill="#fff" textLength="43.1" lengthAdjust="spacingAndGlyphs">XAUUSD</text>
<text x="67.6" y="811.8" font-size="12" fill="#434651" textLength="19.2" lengthAdjust="spacingAndGlyphs" text-anchor="middle">Aug</text>
<text x="208.8" y="811.8" font-size="12" fill="#434651" textLength="18.3" lengthAdjust="spacingAndGlyphs" text-anchor="middle">Sep</text>
<text x="338.1" y="811.8" font-size="12" fill="#434651" textLength="18.6" lengthAdjust="spacingAndGlyphs" text-anchor="middle">Oct</text>
<text x="473.7" y="811.8" font-size="12" fill="#434651" textLength="20.3" lengthAdjust="spacingAndGlyphs" text-anchor="middle">Nov</text>
<text x="609.0" y="811.8" font-size="12" fill="#434651" textLength="19.6" lengthAdjust="spacingAndGlyphs" text-anchor="middle">Dec</text>
<text x="738.6" y="811.8" font-size="12" font-weight="bold" fill="#131722" textLength="27.1" lengthAdjust="spacingAndGlyphs" text-anchor="middle">2024</text>
<text x="880.4" y="811.8" font-size="12" fill="#434651" textLength="19.0" lengthAdjust="spacingAndGlyphs" text-anchor="middle">Feb</text>
<text x="1009.4" y="811.8" font-size="12" fill="#434651" textLength="20.0" lengthAdjust="spacingAndGlyphs" text-anchor="middle">Mar</text>
<text x="1138.6" y="811.8" font-size="12" fill="#434651" textLength="18.5" lengthAdjust="spacingAndGlyphs" text-anchor="middle">Apr</text>
<text x="1274.0" y="811.8" font-size="12" fill="#434651" textLength="20.0" lengthAdjust="spacingAndGlyphs" text-anchor="middle">May</text>
<text x="1415.0" y="811.8" font-size="12" fill="#434651" textLength="18.0" lengthAdjust="spacingAndGlyphs" text-anchor="middle">Jun</text>
<g transform="translate(10.2,832) scale(0.544)" fill="#131722"><path d="M14 22H7V11H0V4h14v18zM28 22h-8l7.5-18h8L28 22z"/><circle cx="20" cy="8" r="4"/></g>
<text x="34.2" y="843.6" font-size="13" fill="#131722" textLength="69.1" lengthAdjust="spacingAndGlyphs">TradingView</text>
<mask id="wmm" maskUnits="userSpaceOnUse" x="1270" y="745" width="259" height="85"><rect x="1270" y="745" width="259" height="85" fill="#fff"/><text transform="translate(1282,811) skewX(-13)" font-family='"Liberation Sans","Noto Sans CJK SC",sans-serif' font-size="57" font-weight="bold" fill="#000" fill-opacity="1" stroke="#000" stroke-opacity="1" stroke-width="2.4" stroke-linejoin="round" textLength="238" lengthAdjust="spacingAndGlyphs">海马财经</text></mask>
<g mask="url(#wmm)"><text transform="translate(1284.2,813.2) skewX(-13)" font-family='"Liberation Sans","Noto Sans CJK SC",sans-serif' font-size="57" font-weight="bold" fill="#5c5c64" fill-opacity="0.85" stroke="#5c5c64" stroke-opacity="0.85" stroke-width="2.4" stroke-linejoin="round" textLength="238" lengthAdjust="spacingAndGlyphs" filter="url(#blur)">海马财经</text></g>
<text transform="translate(1282,811) skewX(-13)" font-family='"Liberation Sans","Noto Sans CJK SC",sans-serif' font-size="57" font-weight="bold" fill="#ffffff" fill-opacity="0.72" stroke="#ffffff" stroke-opacity="0.72" stroke-width="2.4" stroke-linejoin="round" textLength="238" lengthAdjust="spacingAndGlyphs">海马财经</text>
<text transform="scale(1.28,1)" x="1012.5 1032.8 1055.1 1074.1 1090.1 1116.2 1135.2 1151.2 1169.6" y="852.3" font-size="31" font-weight="bold" font-style="italic" fill="#7d8fbf" fill-opacity="0.85" stroke="#7d8fbf" stroke-opacity="0.85" stroke-width="0.9" stroke-linejoin="round">zzrt01.cn</text>
<text transform="scale(1.28,1)" x="1011.5 1031.8 1054.1 1073.1 1089.1 1115.2 1134.2 1150.2 1168.6" y="851" font-size="31" font-weight="bold" font-style="italic" fill="#93b1ff" fill-opacity="1" stroke="#93b1ff" stroke-opacity="1" stroke-width="0.9" stroke-linejoin="round">zzrt01.cn</text>
</svg>
</body></html>
